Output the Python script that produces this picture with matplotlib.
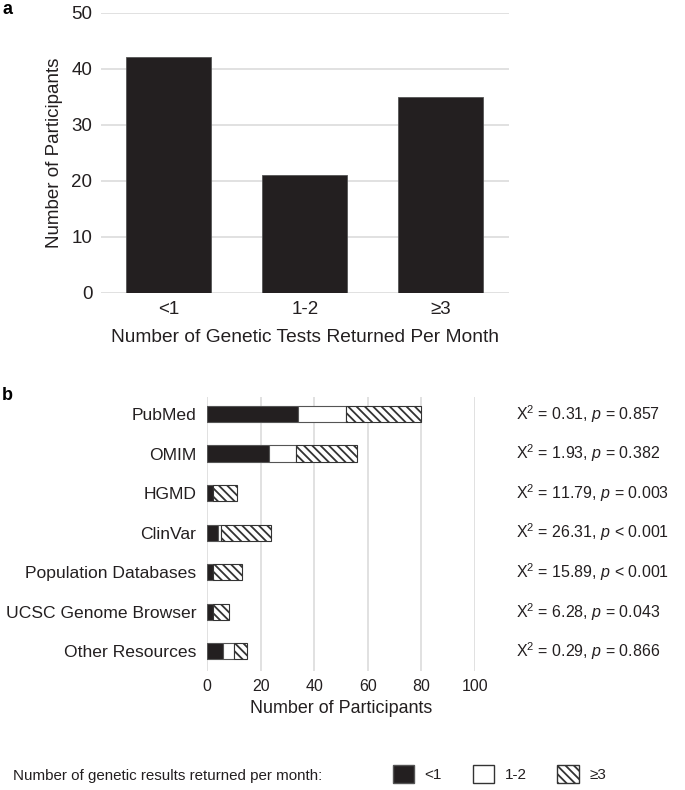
import numpy as np
import matplotlib
matplotlib.use('Agg')
import matplotlib.pyplot as plt
from matplotlib.patches import Patch

# panel a
freq_cats   = ['<1', '1-2', '\u22653']
freq_counts = [42, 21, 35]

# panel b
resources = ['PubMed', 'OMIM', 'HGMD', 'ClinVar', 'Population Databases',
             'UCSC Genome Browser', 'Other Resources']
lt1  = [34, 23, 2, 4, 2, 2, 6]
r12  = [18, 10, 0, 1, 0, 0, 4]
ge3  = [28, 23, 9, 19, 11, 6, 5]
chi2 = ['0.31', '1.93', '11.79', '26.31', '15.89', '6.28', '0.29']
pval = ['= 0.857', '= 0.382', '= 0.003', '< 0.001', '< 0.001', '= 0.043', '= 0.866']

plt.rcParams['font.family'] = ['Liberation Sans', 'DejaVu Sans']
plt.rcParams['hatch.linewidth'] = 1.3
plt.rcParams['mathtext.fontset'] = 'custom'
plt.rcParams['mathtext.rm'] = 'Liberation Sans'
plt.rcParams['mathtext.it'] = 'Liberation Sans:italic'

dark = '#231f20'
grid = '#dcdcdc'
txt = '#231f20'

fig = plt.figure(figsize=(6.85, 7.9), dpi=100)

# ---- a
ax = fig.add_axes([0.147, 0.6295, 0.596, 0.3545])
x = np.arange(len(freq_cats))
ax.bar(x, freq_counts, width=0.625, color=dark, edgecolor='#555555', linewidth=0.6, zorder=3)
ax.set_xlim(-0.5, 2.5)
ax.set_ylim(0, 50)
ax.set_yticks(np.arange(0, 51, 10))
ax.set_xticks(x)
ax.set_xticklabels(freq_cats)
ax.yaxis.grid(True, color=grid, linewidth=1.2, zorder=0)
ax.tick_params(length=0, labelsize=13.5, colors=txt, pad=6)
ax.tick_params(axis='y', pad=6)
for s in ax.spines.values():
    s.set_visible(False)
ax.set_ylabel('Number of Participants', fontsize=13.5, color=txt, labelpad=6)
ax.set_xlabel('Number of Genetic Tests Returned Per Month', fontsize=13.8, color=txt, labelpad=8)
fig.text(0.003, 0.999, 'a', fontsize=13, fontweight='bold', va='top', ha='left')

# ---- b
bx = fig.add_axes([0.3026, 0.1506, 0.3904, 0.3469])
y = np.arange(len(resources))
h = 0.41
bx.barh(y, lt1, height=h, color=dark, edgecolor='#555555', linewidth=0.8, zorder=3)
bx.barh(y, r12, left=lt1, height=h, color='white', edgecolor='#555555', linewidth=0.8, zorder=3)
left3 = np.array(lt1) + np.array(r12)
bx.barh(y, ge3, left=left3, height=h, color='white', edgecolor='#333333',
        hatch='\\\\\\\\', linewidth=0.8, zorder=3)
bx.set_xlim(0, 100)
bx.set_ylim(6.5, -0.43)
bx.set_xticks(np.arange(0, 101, 20))
bx.set_yticks(y)
bx.set_yticklabels(resources, fontsize=12.6, color=txt)
bx.xaxis.grid(True, color=grid, linewidth=1.2, zorder=0)
bx.tick_params(length=0, colors=txt)
bx.tick_params(axis='y', pad=8)
bx.tick_params(axis='x', labelsize=11.5, pad=6)
for s in bx.spines.values():
    s.set_visible(False)
bx.set_xlabel('Number of Participants', fontsize=12.9, color=txt, labelpad=4)
for i in range(len(resources)):
    bx.text(115.3, y[i], r'X$^{2}$ = ' + chi2[i] + ', $p$ ' + pval[i],
            fontsize=11.5, color=txt, va='center', ha='left')
fig.text(0.003, 0.51, 'b', fontsize=13, fontweight='bold', va='top', ha='left')

# legend
fig.text(0.019, 0.009, 'Number of genetic results returned per month:',
         fontsize=10.9, color=txt, va='bottom', ha='left')
handles = [Patch(facecolor=dark, edgecolor='#555555', label='<1'),
           Patch(facecolor='white', edgecolor='#333333', label='1-2'),
           Patch(facecolor='white', edgecolor='#333333', hatch='\\\\\\\\', label='\u22653')]
leg = fig.legend(handles=handles, loc='lower left', bbox_to_anchor=(0.553, -0.008), ncol=3,
                 frameon=False, handlelength=1.4, handleheight=1.4, handletextpad=0.7,
                 columnspacing=2.0, prop={'size': 11})
for t in leg.get_texts():
    t.set_color(txt)

plt.savefig('out.png', dpi=100)
